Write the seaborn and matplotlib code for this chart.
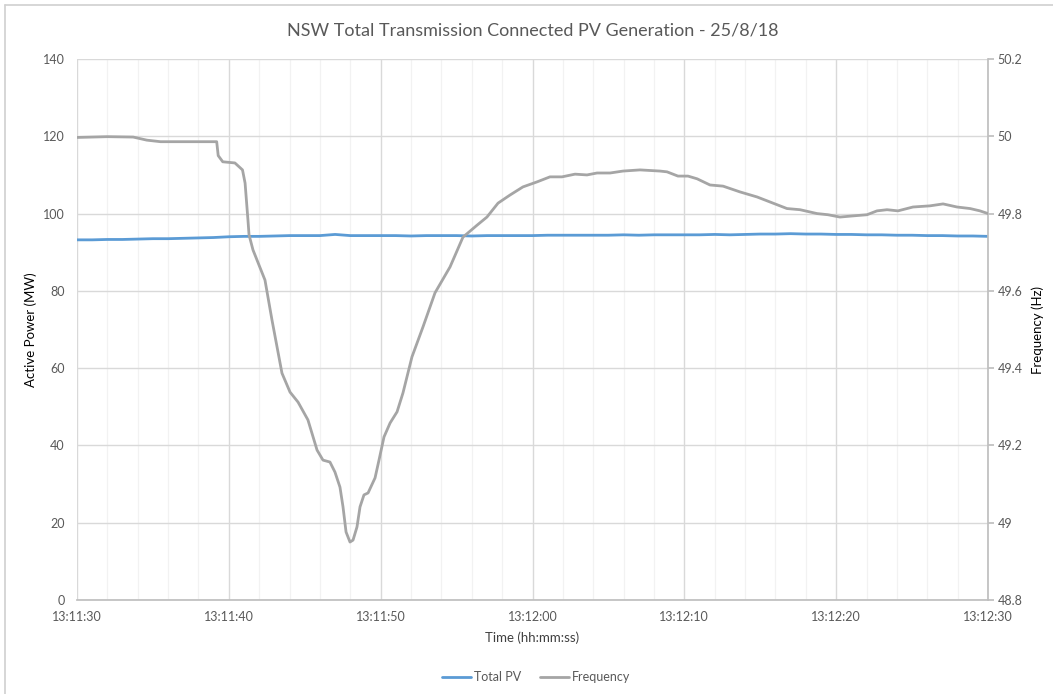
import numpy as np
import pandas as pd
import matplotlib
matplotlib.use("Agg")
import matplotlib.pyplot as plt
from matplotlib.lines import Line2D
import seaborn as sns

# ---- data -------------------------------------------------------------
# seconds after 13:11:30
freq_t = [0.0, 2.0, 3.7, 4.6, 5.5, 9.2, 9.3, 9.6, 10.4, 10.9, 11.07, 11.26,
          11.33, 11.59, 12.38, 12.84, 13.50, 14.03, 14.56, 15.21, 15.81,
          16.20, 16.66, 16.99, 17.32, 17.52, 17.72, 17.98, 18.18, 18.44,
          18.64, 18.90, 19.17, 19.63, 19.89, 20.22, 20.62, 21.08, 21.47,
          22.06, 22.79, 23.58, 24.57, 25.42, 26.35, 27.00, 27.73, 28.52,
          29.37, 30.30, 31.15, 31.94, 32.80, 33.59, 34.25, 35.11, 35.96,
          37.08, 38.40, 38.86, 39.58, 40.24, 40.84, 41.69, 42.55, 43.67,
          44.79, 45.84, 46.76, 47.62, 48.74, 49.46, 50.25, 51.11, 52.03,
          52.69, 53.35, 54.07, 55.06, 56.18, 57.04, 57.96, 58.82, 59.47, 60.0]
freq_hz = [49.997, 49.999, 49.998, 49.990, 49.986, 49.986, 49.950, 49.934,
           49.931, 49.913, 49.879, 49.783, 49.745, 49.706, 49.628, 49.525,
           49.387, 49.338, 49.312, 49.266, 49.188, 49.162, 49.157, 49.131,
           49.092, 49.041, 48.976, 48.950, 48.955, 48.989, 49.041, 49.072,
           49.077, 49.116, 49.162, 49.222, 49.258, 49.287, 49.336, 49.429,
           49.507, 49.595, 49.662, 49.739, 49.770, 49.791, 49.827, 49.848,
           49.869, 49.882, 49.895, 49.895, 49.902, 49.900, 49.905, 49.905,
           49.910, 49.913, 49.910, 49.908, 49.897, 49.897, 49.890, 49.874,
           49.871, 49.856, 49.843, 49.827, 49.813, 49.810, 49.800, 49.797,
           49.791, 49.794, 49.797, 49.807, 49.810, 49.807, 49.817, 49.820,
           49.825, 49.817, 49.813, 49.807, 49.800]

pv_t = list(range(0, 61))
pv_mw = [93.2, 93.2, 93.3, 93.3, 93.4, 93.5, 93.5, 93.6, 93.7, 93.8,
         94.0, 94.1, 94.1, 94.2, 94.3, 94.3, 94.3, 94.6, 94.3, 94.3,
         94.3, 94.3, 94.2, 94.3, 94.3, 94.3, 94.2, 94.3, 94.3, 94.3,
         94.3, 94.4, 94.4, 94.4, 94.4, 94.4, 94.5, 94.4, 94.5, 94.5,
         94.5, 94.5, 94.6, 94.5, 94.6, 94.7, 94.7, 94.8, 94.7, 94.7,
         94.6, 94.6, 94.5, 94.5, 94.4, 94.4, 94.3, 94.3, 94.2, 94.2, 94.1]

x_ticks = [0, 10, 20, 30, 40, 50, 60]
x_tick_labels = ["13:11:30", "13:11:40", "13:11:50", "13:12:00",
                 "13:12:10", "13:12:20", "13:12:30"]
power_ticks = [0, 20, 40, 60, 80, 100, 120, 140]
freq_ticks = [48.8, 49.0, 49.2, 49.4, 49.6, 49.8, 50.0, 50.2]
freq_tick_labels = ["48.8", "49", "49.2", "49.4", "49.6", "49.8", "50", "50.2"]

# ---- style ------------------------------------------------------------
sns.set_theme(style="white")
plt.rcParams["font.family"] = ["Lato", "DejaVu Sans"]

BLUE = "#5b9bd5"
GREY = "#a5a5a5"
TXT = "#595959"
GRID = "#d9d9d9"
MINOR = "#f2f2f2"

fig = plt.figure(figsize=(10.53, 6.94), dpi=100)
ax = fig.add_axes([77 / 1053, 1 - 600 / 694, (988 - 77) / 1053, (600 - 59) / 694])

pv_df = pd.DataFrame({"t": pv_t, "mw": pv_mw})
fr_df = pd.DataFrame({"t": freq_t, "hz": freq_hz})

sns.lineplot(data=pv_df, x="t", y="mw", ax=ax, color=BLUE, linewidth=2.0,
             zorder=5, legend=False)
ax.set_xlim(0, 60)
ax.set_ylim(0, 140)
ax.set_xticks(x_ticks)
ax.set_xticklabels(x_tick_labels)
ax.set_xticks(np.arange(0, 61, 2), minor=True)
ax.set_yticks(power_ticks)
ax.grid(True, which="major", color=GRID, linewidth=1.0)
ax.grid(True, which="minor", axis="x", color=MINOR, linewidth=0.9)
ax.set_axisbelow(True)
ax.tick_params(axis="both", which="both", length=0, colors=TXT, labelsize=9)
ax.tick_params(axis="y", pad=9)
ax.tick_params(axis="x", pad=8)
for s in ["left", "top", "right"]:
    ax.spines[s].set_visible(False)
ax.spines["bottom"].set_color("#bfbfbf")
ax.set_xlabel("Time (hh:mm:ss)", color="#404040", fontsize=9.5, labelpad=6)
ax.set_ylabel("Active Power (MW)", color="#000000", fontsize=9.5, labelpad=4)

ax2 = ax.twinx()
sns.lineplot(data=fr_df, x="t", y="hz", ax=ax2, color=GREY, linewidth=2.0,
             zorder=4, legend=False)
ax2.set_ylim(48.8, 50.2)
ax2.set_yticks(freq_ticks)
ax2.set_yticklabels(freq_tick_labels)
ax2.tick_params(axis="y", length=4, colors=TXT, labelsize=9, pad=3)
ax2.tick_params(axis="y", color="#bfbfbf")
for s in ["left", "top", "bottom"]:
    ax2.spines[s].set_visible(False)
ax2.spines["right"].set_color("#bfbfbf")
ax2.set_ylabel("Frequency (Hz)", color="#000000", fontsize=9.5, labelpad=6)
ax2.grid(False)
ax2.set_xlabel("")

fig.suptitle("NSW Total Transmission Connected PV Generation - 25/8/18",
             x=533 / 1053, y=1 - 31 / 694, va="center", color=TXT, fontsize=13)

handles = [Line2D([], [], color=BLUE, linewidth=2.0),
           Line2D([], [], color=GREY, linewidth=2.0)]
fig.legend(handles, ["Total PV", "Frequency"], loc="center",
           bbox_to_anchor=(536 / 1053, 1 - 677 / 694), ncol=2, frameon=False,
           fontsize=9, handlelength=2.3, handletextpad=0.25, columnspacing=1.5,
           labelcolor=TXT)

# chart-area border
fig.add_artist(Line2D([4.5 / 1053, 4.5 / 1053], [0, 1 - 5 / 694],
                      transform=fig.transFigure, color="#d0d0d0", linewidth=1.2))
fig.add_artist(Line2D([4.5 / 1053, 1], [1 - 5 / 694, 1 - 5 / 694],
                      transform=fig.transFigure, color="#d0d0d0", linewidth=1.2))

fig.savefig("out.png", dpi=100, facecolor="white")
